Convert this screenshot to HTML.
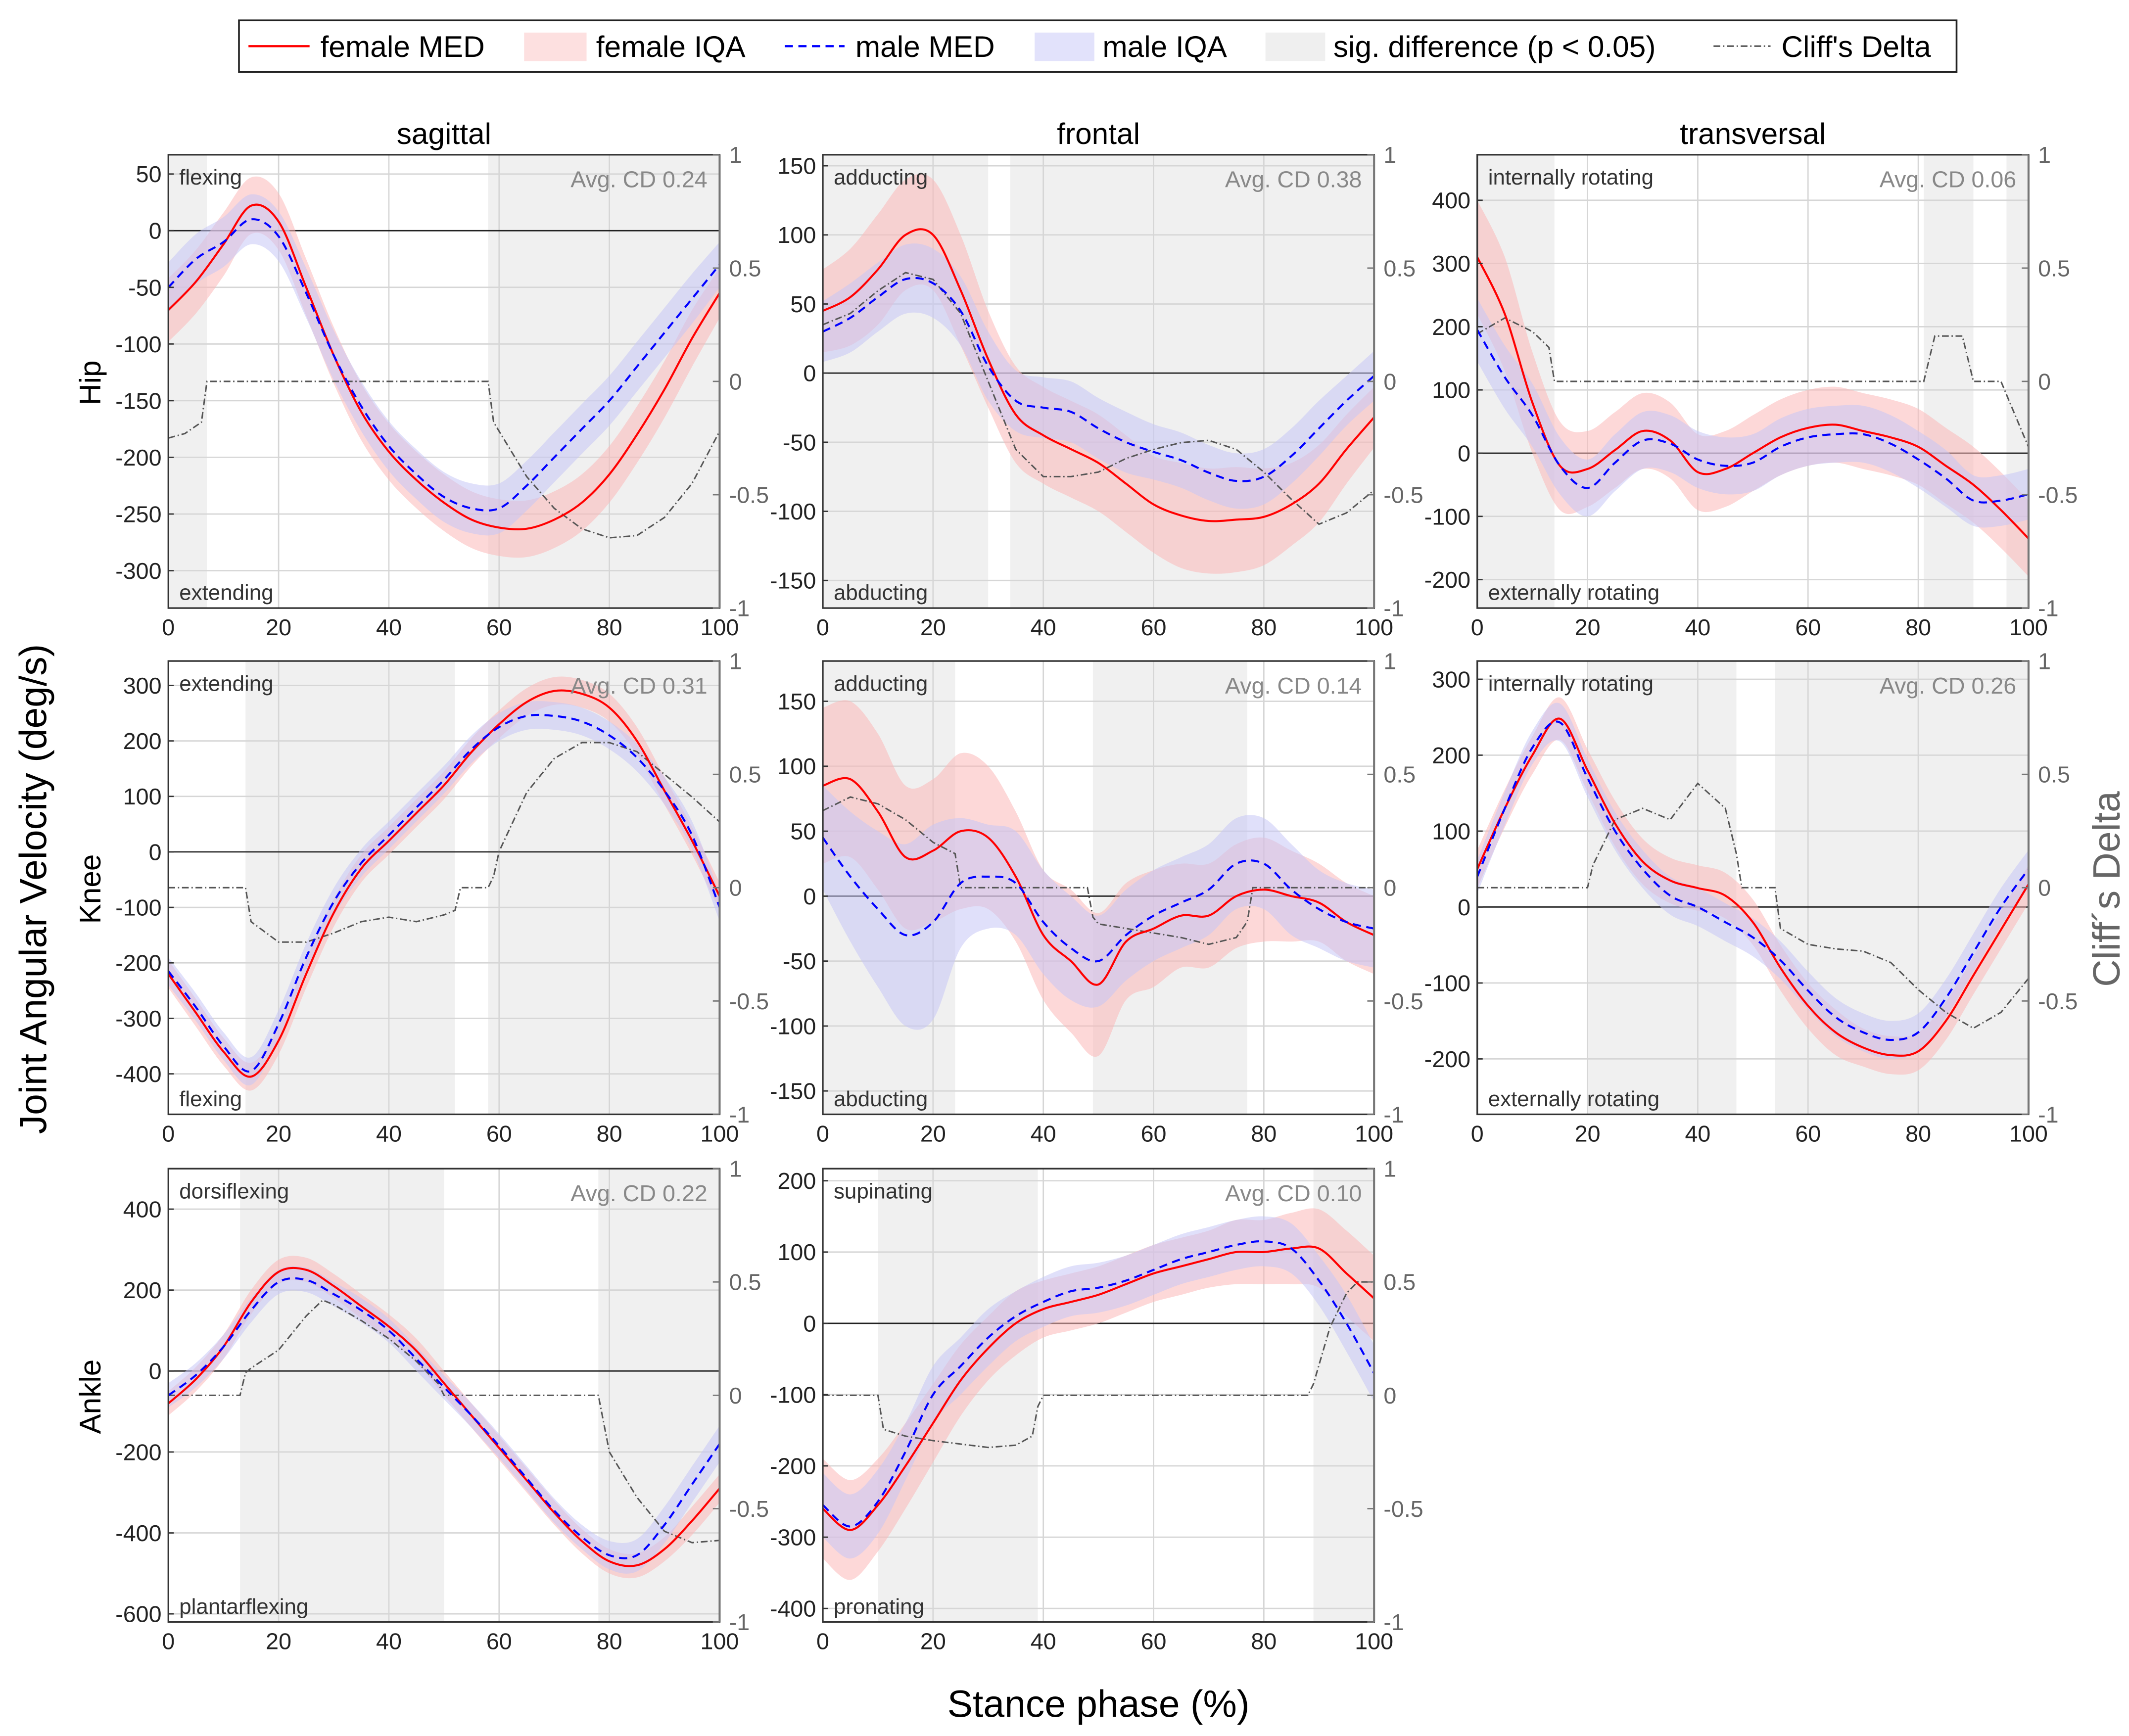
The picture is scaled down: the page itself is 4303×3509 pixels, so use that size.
<!DOCTYPE html>
<html><head><meta charset="utf-8">
<style>
html,body{margin:0;padding:0;background:#fff;}
svg{display:block;font-family:"Liberation Sans",Arial,sans-serif;}
</style></head>
<body>
<svg id="fig" width="4303" height="3509" viewBox="0 0 1568 1279" preserveAspectRatio="none" xmlns="http://www.w3.org/2000/svg">
<rect x="0" y="0" width="1568" height="1279" fill="#fff"/>
<g>
<rect x="176" y="15" width="1265" height="38" fill="#fff" stroke="#222" stroke-width="1.3"/>
<line x1="183" y1="34" x2="228" y2="34" stroke="#f00" stroke-width="1.6"/>
<text x="236" y="42" font-size="22">female MED</text>
<rect x="386" y="24" width="46" height="21" fill="#fde0e0"/>
<text x="439" y="42" font-size="22">female IQA</text>
<line x1="578" y1="34" x2="622" y2="34" stroke="#00f" stroke-width="1.6" stroke-dasharray="6,4"/>
<text x="630" y="42" font-size="22">male MED</text>
<rect x="762" y="24" width="44" height="21" fill="#e2e2fb"/>
<text x="812" y="42" font-size="22">male IQA</text>
<rect x="932" y="24" width="44" height="21" fill="#efefef"/>
<text x="982" y="42" font-size="22">sig. difference (p &lt; 0.05)</text>
<line x1="1262" y1="34" x2="1304" y2="34" stroke="#555" stroke-width="1.2" stroke-dasharray="5,2,1,2"/>
<text x="1312" y="42" font-size="22">Cliff's Delta</text>
</g>
<text x="327" y="106" font-size="22" text-anchor="middle">sagittal</text>
<text x="809" y="106" font-size="22" text-anchor="middle">frontal</text>
<text x="1291" y="106" font-size="22" text-anchor="middle">transversal</text>
<text transform="translate(74,282) rotate(-90)" font-size="22" text-anchor="middle">Hip</text>
<text transform="translate(74,655) rotate(-90)" font-size="22" text-anchor="middle">Knee</text>
<text transform="translate(74,1029) rotate(-90)" font-size="22" text-anchor="middle">Ankle</text>
<text transform="translate(34,655) rotate(-90)" font-size="28" text-anchor="middle">Joint Angular Velocity (deg/s)</text>
<text transform="translate(1561,655) rotate(-90)" font-size="28" fill="#666" text-anchor="middle">Cliff´s Delta</text>
<text x="809" y="1265" font-size="28" text-anchor="middle">Stance phase (%)</text>
<g id="panels"></g>
</svg>
<script>
const phase=[0,5,10,15,20,25,30,35,40,45,50,55,60,65,70,75,80,85,90,95,100];
const xTicks=[0,20,40,60,80,100];
const cdTicks=[1,0.5,0,-0.5,-1];
const cdTickLabels=["1","0.5","0","-0.5","-1"];

// Hip sagittal
const hipSagF=[-70,-45,-12,22,8,-50,-110,-160,-195,-220,-240,-255,-262,-263,-255,-240,-215,-180,-140,-95,-55];
const hipSagFW=[28,28,28,25,25,25,25,25,25,25,25,25,25,25,25,25,25,25,25,25,22];
const hipSagM=[-50,-25,-10,10,-5,-55,-110,-155,-190,-215,-235,-245,-245,-225,-200,-175,-150,-120,-90,-60,-30];
const hipSagMW=[22,22,22,22,22,22,22,22,22,22,22,22,22,22,22,22,22,22,22,22,20];
const hipSagCDX=[0,3,6,7,58,59,62,65,70,75,80,85,90,95,100];
const hipSagCD=[-0.25,-0.23,-0.18,0,0,-0.18,-0.3,-0.42,-0.56,-0.65,-0.69,-0.68,-0.6,-0.45,-0.22];
// Hip frontal
const hipFroF=[45,55,75,100,100,60,10,-30,-45,-55,-65,-80,-95,-103,-107,-106,-104,-95,-80,-55,-32];
const hipFroFW=[30,35,40,40,40,40,35,35,35,35,35,35,35,38,38,38,35,30,28,25,22];
const hipFroM=[30,40,55,68,65,45,5,-20,-25,-28,-40,-50,-57,-63,-72,-78,-75,-60,-40,-20,-2];
const hipFroMW=[22,25,25,25,25,25,25,22,22,22,22,22,20,20,20,20,20,20,20,18,18];
const hipFroCDX=phase;
const hipFroCD=[0.25,0.3,0.4,0.48,0.45,0.3,0,-0.3,-0.42,-0.42,-0.4,-0.34,-0.3,-0.27,-0.26,-0.3,-0.4,-0.52,-0.63,-0.58,-0.48];
// Hip transversal
const hipTraF=[310,220,80,-20,-25,5,35,20,-30,-25,0,25,40,45,35,25,10,-20,-50,-90,-135];
const hipTraFW=[90,90,80,70,60,60,60,60,60,60,60,60,60,60,60,60,60,60,60,60,60];
const hipTraM=[195,120,60,-20,-55,-15,20,15,-10,-20,-15,10,25,30,30,15,-10,-40,-75,-75,-65];
const hipTraMW=[50,50,50,45,45,45,45,45,45,45,45,45,45,45,45,45,45,45,40,40,40];
const hipTraCDX=[0,5,10,13,14,81,83,88,89,90,95,100];
const hipTraCD=[0.21,0.28,0.22,0.15,0,0,0.2,0.2,0.1,0,0,-0.29];
// Knee sagittal
const kneeSagF=[-220,-290,-360,-405,-340,-220,-110,-30,20,70,120,180,230,270,290,285,260,200,110,20,-80];
const kneeSagFW=[25,25,25,25,25,25,25,25,25,25,25,25,25,25,25,25,25,25,25,25,25];
const kneeSagM=[-215,-280,-350,-395,-310,-190,-90,-20,30,80,130,185,225,245,245,235,210,170,110,30,-100];
const kneeSagMW=[25,25,25,25,25,25,25,25,25,25,25,25,25,25,25,25,25,25,25,25,25];
const kneeSagCDX=[0,14,15,20,25,30,35,40,45,50,52,53,58,59,60,65,70,75,80,85,90,95,100];
const kneeSagCD=[0,0,-0.15,-0.24,-0.24,-0.2,-0.15,-0.13,-0.15,-0.12,-0.1,0,0,0.05,0.16,0.42,0.57,0.64,0.64,0.6,0.5,0.4,0.29];
// Knee frontal
const kneeFroF=[85,90,65,30,35,50,45,15,-30,-50,-68,-35,-25,-15,-15,0,5,0,-5,-20,-30];
const kneeFroFW=[60,60,60,55,55,60,55,50,50,55,55,45,45,40,40,40,40,35,30,30,30];
const kneeFroM=[45,15,-10,-30,-20,10,15,10,-20,-40,-50,-30,-15,-5,5,25,25,5,-10,-20,-25];
const kneeFroMW=[40,50,60,70,75,50,40,40,40,40,35,35,35,35,35,35,35,35,30,30,30];
const kneeFroCDX=[0,5,10,15,20,24,25,48,49,50,55,60,65,70,75,77,78,100];
const kneeFroCD=[0.34,0.4,0.37,0.3,0.2,0.15,0,0,-0.13,-0.16,-0.18,-0.2,-0.22,-0.25,-0.22,-0.15,0,0];
// Knee transversal
const kneeTraF=[50,130,200,248,180,110,60,35,25,15,-20,-80,-130,-165,-185,-195,-190,-150,-90,-30,30];
const kneeTraFW=[25,25,25,28,28,30,30,30,30,30,30,30,30,30,25,25,25,25,25,25,25];
const kneeTraM=[40,130,210,243,170,100,50,15,0,-20,-40,-70,-110,-145,-165,-175,-165,-120,-60,0,50];
const kneeTraMW=[22,22,22,25,25,25,25,25,25,25,25,25,25,25,25,25,25,25,25,25,25];
const kneeTraCDX=[0,20,21,25,30,35,40,45,47,48,54,55,60,65,70,75,80,85,90,95,100];
const kneeTraCD=[0,0,0.1,0.3,0.35,0.3,0.46,0.35,0.15,0,0,-0.18,-0.25,-0.27,-0.28,-0.33,-0.45,-0.55,-0.62,-0.55,-0.4];
// Ankle sagittal
const ankSagF=[-80,-20,60,170,245,250,210,160,110,50,-30,-110,-190,-270,-350,-420,-470,-480,-440,-370,-290];
const ankSagFW=[30,30,30,30,30,30,30,30,30,30,30,30,30,30,30,30,30,30,30,35,35];
const ankSagM=[-60,-10,60,150,220,225,190,150,100,30,-40,-110,-185,-265,-345,-410,-455,-455,-380,-280,-180];
const ankSagMW=[30,30,30,30,30,30,30,30,30,30,30,30,30,30,30,30,35,40,45,45,45];
const ankSagCDX=[0,13,14,15,20,25,28,30,35,40,45,49,50,78,80,85,90,95,100];
const ankSagCD=[0,0,0.1,0.12,0.2,0.35,0.42,0.4,0.33,0.25,0.15,0.05,0,0,-0.25,-0.45,-0.6,-0.65,-0.64];
// Ankle frontal
const ankFroF=[-260,-290,-255,-200,-140,-80,-35,0,20,30,40,55,70,80,90,100,100,105,105,70,35];
const ankFroFW=[70,70,65,60,55,50,45,45,40,40,40,40,40,40,40,45,45,50,55,60,60];
const ankFroM=[-255,-285,-250,-180,-100,-60,-20,10,30,45,50,60,75,90,100,110,115,105,60,0,-70];
const ankFroMW=[45,45,45,40,40,40,40,35,35,35,35,35,35,35,35,35,35,35,35,40,40];
const ankFroCDX=[0,10,11,15,20,30,35,38,39,40,88,89,92,95,97,100];
const ankFroCD=[0,0,-0.15,-0.18,-0.2,-0.23,-0.22,-0.18,-0.05,0,0,0.05,0.3,0.45,0.5,0.5];

const panels=[
 {name:"hip-sagittal",x0:124,y0:114,ymin:-333,ymax:67,yt:[50,0,-50,-100,-150,-200,-250,-300],sig:[[0,7],[58,100]],avg:"0.24",top:"flexing",bot:"extending",F:hipSagF,FW:hipSagFW,M:hipSagM,MW:hipSagMW,CDX:hipSagCDX,CD:hipSagCD},
 {name:"hip-frontal",x0:606,y0:114,ymin:-170,ymax:158,yt:[150,100,50,0,-50,-100,-150],sig:[[0,30],[34,100]],avg:"0.38",top:"adducting",bot:"abducting",F:hipFroF,FW:hipFroFW,M:hipFroM,MW:hipFroMW,CDX:hipFroCDX,CD:hipFroCD},
 {name:"hip-transversal",x0:1088,y0:114,ymin:-245,ymax:472,yt:[400,300,200,100,0,-100,-200],sig:[[0,14],[81,90],[96,100]],avg:"0.06",top:"internally rotating",bot:"externally rotating",F:hipTraF,FW:hipTraFW,M:hipTraM,MW:hipTraMW,CDX:hipTraCDX,CD:hipTraCD},
 {name:"knee-sagittal",x0:124,y0:487,ymin:-473,ymax:344,yt:[300,200,100,0,-100,-200,-300,-400],sig:[[14,52],[58,100]],avg:"0.31",top:"extending",bot:"flexing",F:kneeSagF,FW:kneeSagFW,M:kneeSagM,MW:kneeSagMW,CDX:kneeSagCDX,CD:kneeSagCD},
 {name:"knee-frontal",x0:606,y0:487,ymin:-168,ymax:181,yt:[150,100,50,0,-50,-100,-150],sig:[[0,24],[49,77]],avg:"0.14",top:"adducting",bot:"abducting",F:kneeFroF,FW:kneeFroFW,M:kneeFroM,MW:kneeFroMW,CDX:kneeFroCDX,CD:kneeFroCD},
 {name:"knee-transversal",x0:1088,y0:487,ymin:-273,ymax:324,yt:[300,200,100,0,-100,-200],sig:[[20,47],[54,100]],avg:"0.26",top:"internally rotating",bot:"externally rotating",F:kneeTraF,FW:kneeTraFW,M:kneeTraM,MW:kneeTraMW,CDX:kneeTraCDX,CD:kneeTraCD},
 {name:"ankle-sagittal",x0:124,y0:861,ymin:-620,ymax:500,yt:[400,200,0,-200,-400,-600],sig:[[13,50],[78,100]],avg:"0.22",top:"dorsiflexing",bot:"plantarflexing",F:ankSagF,FW:ankSagFW,M:ankSagM,MW:ankSagMW,CDX:ankSagCDX,CD:ankSagCD},
 {name:"ankle-frontal",x0:606,y0:861,ymin:-419,ymax:217,yt:[200,100,0,-100,-200,-300,-400],sig:[[10,39],[89,100]],avg:"0.10",top:"supinating",bot:"pronating",F:ankFroF,FW:ankFroFW,M:ankFroM,MW:ankFroMW,CDX:ankFroCDX,CD:ankFroCD}
];
const W=406,H=334,NS="http://www.w3.org/2000/svg";
function mk(tag,attrs,parent){const e=document.createElementNS(NS,tag);for(const k in attrs)e.setAttribute(k,attrs[k]);parent.appendChild(e);return e;}
function smooth(pts){let d="M"+pts[0][0].toFixed(2)+","+pts[0][1].toFixed(2);
 for(let i=0;i<pts.length-1;i++){const p0=pts[Math.max(0,i-1)],p1=pts[i],p2=pts[i+1],p3=pts[Math.min(pts.length-1,i+2)];
  const c1=[p1[0]+(p2[0]-p0[0])/6,p1[1]+(p2[1]-p0[1])/6],c2=[p2[0]-(p3[0]-p1[0])/6,p2[1]-(p3[1]-p1[1])/6];
  d+="C"+c1[0].toFixed(2)+","+c1[1].toFixed(2)+" "+c2[0].toFixed(2)+","+c2[1].toFixed(2)+" "+p2[0].toFixed(2)+","+p2[1].toFixed(2);}
 return d;}
const root=document.getElementById("panels");
panels.forEach(p=>{
 const g=mk("g",{},root);
 
 
 const X=v=>p.x0+v/100*W, Y=v=>p.y0+(p.ymax-v)/(p.ymax-p.ymin)*H, YC=v=>p.y0+(1-v)/2*H;
 const cid="clip-"+p.name;
 const cp=mk("clipPath",{id:cid},g);mk("rect",{x:p.x0,y:p.y0,width:W,height:H},cp);
 const bg=mk("rect",{x:p.x0,y:p.y0,width:W,height:H,fill:"#fff"},g);
 
 
 p.sig.forEach(s=>{const r=mk("rect",{x:X(s[0]),y:p.y0,width:X(s[1])-X(s[0]),height:H,fill:"#f0f0f0"},g);
  
  });
 xTicks.forEach(t=>{mk("line",{x1:X(t),y1:p.y0,x2:X(t),y2:p.y0+H,stroke:"#d6d6d6","stroke-width":1},g);});
 p.yt.forEach(t=>{mk("line",{x1:p.x0,y1:Y(t),x2:p.x0+W,y2:Y(t),stroke:t===0?"#222":"#d6d6d6","stroke-width":1},g);});
 const dg=mk("g",{"clip-path":"url(#"+cid+")"},g);
 const band=(med,w,col,nm)=>{const up=phase.map((x,i)=>[X(x),Y(med[i]+w[i])]);const lo=phase.map((x,i)=>[X(x),Y(med[i]-w[i])]).reverse();
  let d=smooth(up)+"L"+lo[0][0]+","+lo[0][1]+smooth(lo).slice(1).replace(/^[^C]*/,"")+"Z";
  const e=mk("path",{d:d,fill:col,"fill-opacity":"0.55"},dg);
  
  };
 band(p.F,p.FW,"#fbb8b8","female-iqa-band");
 band(p.M,p.MW,"#c6c6f5","male-iqa-band");
 const cd=mk("path",{d:"M"+p.CDX.map((x,i)=>X(x).toFixed(2)+","+YC(p.CD[i]).toFixed(2)).join("L"),fill:"none",stroke:"#555","stroke-width":1.1,"stroke-dasharray":"5,2,1,2"},dg);
 
 
 const fl=mk("path",{d:smooth(phase.map((x,i)=>[X(x),Y(p.F[i])])),fill:"none",stroke:"#f00","stroke-width":1.5},dg);
 
 
 const ml=mk("path",{d:smooth(phase.map((x,i)=>[X(x),Y(p.M[i])])),fill:"none",stroke:"#00f","stroke-width":1.5,"stroke-dasharray":"6,4"},dg);
 
 
 mk("rect",{x:p.x0,y:p.y0,width:W,height:H,fill:"none",stroke:"#333","stroke-width":1.2},g);
 mk("line",{x1:p.x0+W,y1:p.y0,x2:p.x0+W,y2:p.y0+H,stroke:"#777","stroke-width":1.5},g);
 p.yt.forEach(t=>{mk("line",{x1:p.x0,y1:Y(t),x2:p.x0+4,y2:Y(t),stroke:"#333"},g);
  const tx=mk("text",{x:p.x0-5,y:Y(t)+6,"font-size":17,"text-anchor":"end",fill:"#222"},g);tx.textContent=String(t);
  
  });
 xTicks.forEach(t=>{const tx=mk("text",{x:X(t),y:p.y0+H+20,"font-size":17,"text-anchor":"middle",fill:"#222"},g);tx.textContent=String(t);
  
  });
 cdTicks.forEach((t,i)=>{mk("line",{x1:p.x0+W-5,y1:YC(t),x2:p.x0+W,y2:YC(t),stroke:"#777"},g);
  const tx=mk("text",{x:p.x0+W+7,y:YC(t)+6,"font-size":17,fill:"#666"},g);tx.textContent=cdTickLabels[i];
  
  });
 const a=mk("text",{x:p.x0+W-9,y:p.y0+24,"font-size":17,"text-anchor":"end",fill:"#888"},g);a.textContent="Avg. CD "+p.avg;
 
 
 const tt=mk("text",{x:p.x0+8,y:p.y0+22,"font-size":16,fill:"#333"},g);tt.textContent=p.top;
 
 
 const bt=mk("text",{x:p.x0+8,y:p.y0+H-6,"font-size":16,fill:"#333"},g);bt.textContent=p.bot;
 
 
});
</script>
</body></html>
